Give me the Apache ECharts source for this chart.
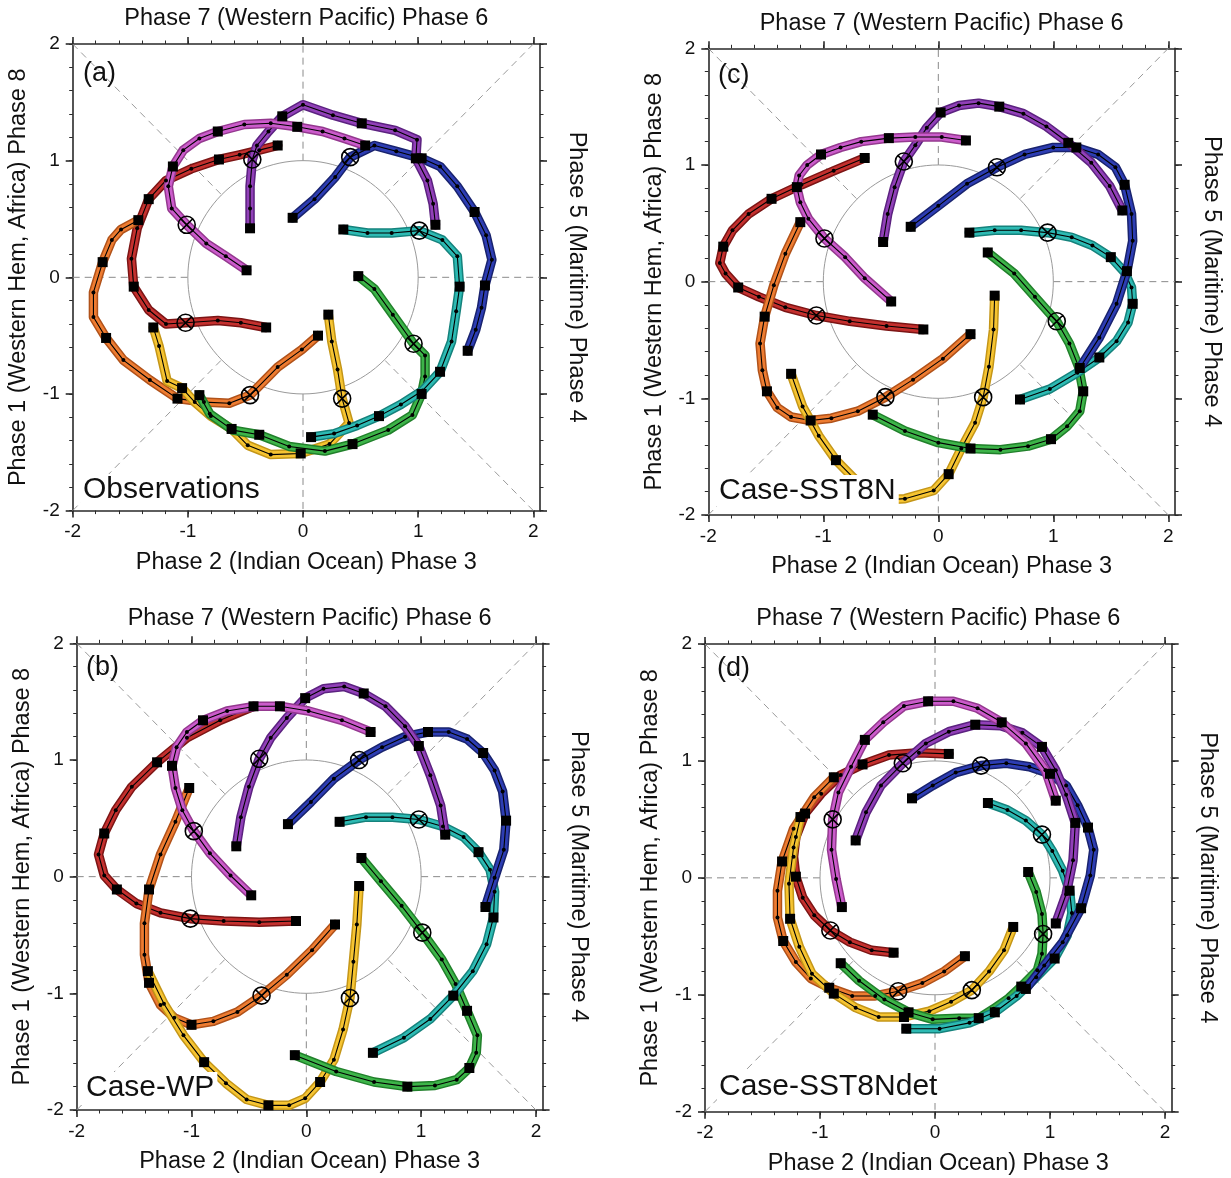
<!DOCTYPE html>
<html><head><meta charset="utf-8">
<script src="https://cdn.jsdelivr.net/npm/echarts/dist/echarts.min.js"></script>
<style>html,body{margin:0;padding:0;background:#fff}#c{width:1231px;height:1178px}</style>
</head><body><div id="c"></div><script>
// ---------- DATA (RMM1, RMM2 daily composites; 16 days each) ----------
const TICK_VALUES = [-2, -1, 0, 1, 2];
const SQUARE_DAYS = [0, 3, 6, 9, 15];
const CROSS_DAY = 12;
const TRACK_NAMES = ['red', 'orange', 'yellow', 'green', 'cyan', 'blue', 'purple', 'magenta'];

// (a) Observations
const A_RED = [[-0.22,1.13],[-0.38,1.09],[-0.55,1.05],[-0.73,1.01],[-0.97,0.93],[-1.19,0.83],[-1.34,0.67],[-1.44,0.42],[-1.49,0.16],[-1.47,-0.08],[-1.34,-0.28],[-1.19,-0.40],[-1.02,-0.39],[-0.74,-0.37],[-0.54,-0.39],[-0.32,-0.43]];
const A_ORANGE = [[-1.43,0.49],[-1.58,0.41],[-1.66,0.32],[-1.74,0.13],[-1.82,-0.13],[-1.82,-0.34],[-1.71,-0.52],[-1.56,-0.71],[-1.33,-0.88],[-1.09,-1.04],[-0.86,-1.07],[-0.64,-1.08],[-0.46,-1.01],[-0.22,-0.77],[-0.01,-0.62],[0.13,-0.50]];
const A_YELLOW = [[-1.30,-0.43],[-1.25,-0.59],[-1.18,-0.89],[-1.05,-0.95],[-0.94,-1.07],[-0.80,-1.19],[-0.62,-1.30],[-0.48,-1.44],[-0.28,-1.52],[-0.02,-1.51],[0.23,-1.43],[0.40,-1.25],[0.34,-1.04],[0.30,-0.79],[0.25,-0.55],[0.22,-0.32]];
const A_GREEN = [[-0.90,-1.01],[-0.81,-1.17],[-0.61,-1.31],[-0.38,-1.35],[-0.12,-1.45],[0.19,-1.49],[0.43,-1.43],[0.74,-1.31],[0.95,-1.18],[1.03,-1.00],[1.06,-0.85],[1.06,-0.67],[0.96,-0.57],[0.78,-0.32],[0.62,-0.10],[0.48,0.01]];
const A_CYAN = [[0.07,-1.37],[0.27,-1.34],[0.47,-1.27],[0.66,-1.19],[0.85,-1.09],[1.04,-0.97],[1.19,-0.81],[1.29,-0.55],[1.33,-0.29],[1.36,-0.08],[1.34,0.18],[1.21,0.32],[1.01,0.40],[0.77,0.38],[0.56,0.38],[0.35,0.41]];
const A_BLUE = [[1.43,-0.63],[1.50,-0.45],[1.55,-0.26],[1.58,-0.07],[1.64,0.15],[1.59,0.36],[1.49,0.56],[1.34,0.78],[1.19,0.95],[1.03,1.02],[0.81,1.08],[0.62,1.13],[0.41,1.03],[0.28,0.86],[0.10,0.67],[-0.09,0.51]];
const A_PURPLE = [[1.15,0.45],[1.13,0.63],[1.08,0.83],[0.98,1.02],[0.99,1.18],[0.80,1.26],[0.51,1.32],[0.26,1.39],[0.00,1.48],[-0.18,1.38],[-0.30,1.25],[-0.40,1.13],[-0.44,1.01],[-0.46,0.78],[-0.46,0.59],[-0.46,0.42]];
const A_MAGENTA = [[0.54,1.13],[0.36,1.19],[0.17,1.25],[-0.05,1.29],[-0.28,1.32],[-0.51,1.31],[-0.74,1.25],[-0.90,1.19],[-1.04,1.09],[-1.13,0.95],[-1.17,0.78],[-1.14,0.59],[-1.01,0.45],[-0.84,0.29],[-0.67,0.18],[-0.49,0.06]];

// (b) Case-WP
const B_RED = [[-0.46,1.46],[-0.75,1.34],[-1.04,1.19],[-1.30,0.98],[-1.52,0.77],[-1.66,0.57],[-1.76,0.37],[-1.81,0.19],[-1.76,0.01],[-1.65,-0.11],[-1.48,-0.23],[-1.27,-0.31],[-1.01,-0.36],[-0.72,-0.38],[-0.41,-0.39],[-0.09,-0.38]];
const B_ORANGE = [[-1.02,0.76],[-1.14,0.47],[-1.27,0.19],[-1.37,-0.11],[-1.41,-0.40],[-1.41,-0.67],[-1.37,-0.91],[-1.27,-1.10],[-1.15,-1.21],[-1.00,-1.27],[-0.81,-1.24],[-0.60,-1.16],[-0.39,-1.02],[-0.17,-0.84],[0.05,-0.63],[0.25,-0.41]];
const B_YELLOW = [[-1.38,-0.81],[-1.24,-1.09],[-1.07,-1.36],[-0.89,-1.59],[-0.70,-1.77],[-0.52,-1.91],[-0.33,-1.96],[-0.15,-1.96],[-0.01,-1.90],[0.12,-1.76],[0.24,-1.57],[0.32,-1.31],[0.38,-1.04],[0.41,-0.73],[0.44,-0.41],[0.46,-0.08]];
const B_GREEN = [[-0.10,-1.53],[0.26,-1.67],[0.59,-1.76],[0.88,-1.80],[1.12,-1.79],[1.31,-1.74],[1.42,-1.64],[1.48,-1.51],[1.49,-1.36],[1.40,-1.15],[1.30,-0.92],[1.18,-0.71],[1.01,-0.48],[0.83,-0.25],[0.65,-0.04],[0.48,0.16]];
const B_CYAN = [[0.58,-1.51],[0.85,-1.38],[1.08,-1.22],[1.28,-1.02],[1.45,-0.81],[1.57,-0.58],[1.63,-0.35],[1.64,-0.13],[1.60,0.06],[1.50,0.21],[1.37,0.34],[1.19,0.43],[0.98,0.49],[0.75,0.51],[0.52,0.51],[0.29,0.47]];
const B_BLUE = [[1.56,-0.26],[1.64,-0.01],[1.72,0.23],[1.74,0.48],[1.71,0.73],[1.64,0.91],[1.54,1.06],[1.40,1.18],[1.24,1.24],[1.06,1.24],[0.86,1.20],[0.66,1.11],[0.46,1.00],[0.24,0.84],[0.04,0.64],[-0.16,0.45]];
const B_PURPLE = [[1.21,0.36],[1.17,0.61],[1.08,0.87],[0.98,1.12],[0.86,1.29],[0.69,1.46],[0.50,1.57],[0.33,1.63],[0.15,1.61],[-0.01,1.53],[-0.17,1.36],[-0.31,1.19],[-0.41,1.01],[-0.50,0.77],[-0.57,0.51],[-0.61,0.26]];
const B_MAGENTA = [[0.56,1.24],[0.31,1.34],[0.02,1.42],[-0.23,1.46],[-0.44,1.46],[-0.69,1.42],[-0.90,1.34],[-1.04,1.24],[-1.13,1.11],[-1.17,0.95],[-1.14,0.76],[-1.08,0.57],[-0.98,0.39],[-0.84,0.20],[-0.66,0.01],[-0.48,-0.16]];

// (c) Case-SST8N
const C_RED = [[-0.64,1.06],[-0.91,0.95],[-1.19,0.83],[-1.45,0.71],[-1.65,0.58],[-1.79,0.44],[-1.87,0.30],[-1.90,0.16],[-1.85,0.07],[-1.74,-0.05],[-1.56,-0.13],[-1.33,-0.22],[-1.06,-0.29],[-0.77,-0.34],[-0.45,-0.38],[-0.13,-0.41]];
const C_ORANGE = [[-1.20,0.51],[-1.33,0.24],[-1.43,-0.03],[-1.51,-0.30],[-1.55,-0.53],[-1.53,-0.76],[-1.49,-0.94],[-1.40,-1.08],[-1.28,-1.16],[-1.11,-1.19],[-0.93,-1.17],[-0.70,-1.11],[-0.46,-0.99],[-0.22,-0.84],[0.04,-0.66],[0.28,-0.45]];
const C_YELLOW = [[-1.28,-0.79],[-1.18,-1.07],[-1.04,-1.32],[-0.89,-1.53],[-0.74,-1.68],[-0.59,-1.81],[-0.45,-1.87],[-0.29,-1.86],[-0.04,-1.79],[0.09,-1.65],[0.20,-1.43],[0.32,-1.21],[0.39,-0.99],[0.44,-0.73],[0.48,-0.41],[0.49,-0.12]];
const C_GREEN = [[-0.57,-1.14],[-0.29,-1.28],[0.00,-1.38],[0.28,-1.43],[0.54,-1.44],[0.78,-1.41],[0.98,-1.35],[1.12,-1.24],[1.23,-1.11],[1.26,-0.94],[1.22,-0.73],[1.14,-0.53],[1.03,-0.34],[0.84,-0.13],[0.66,0.07],[0.43,0.25]];
const C_CYAN = [[0.71,-1.01],[0.97,-0.92],[1.21,-0.78],[1.40,-0.65],[1.55,-0.51],[1.65,-0.35],[1.69,-0.19],[1.68,-0.05],[1.62,0.08],[1.50,0.21],[1.34,0.31],[1.16,0.38],[0.95,0.42],[0.72,0.44],[0.49,0.44],[0.27,0.42]];
const C_BLUE = [[1.23,-0.74],[1.40,-0.48],[1.55,-0.19],[1.64,0.09],[1.69,0.35],[1.68,0.58],[1.62,0.83],[1.54,0.98],[1.39,1.09],[1.20,1.15],[1.00,1.15],[0.75,1.09],[0.51,0.98],[0.25,0.84],[0.00,0.65],[-0.24,0.47]];
const C_PURPLE = [[1.60,0.61],[1.49,0.82],[1.33,1.02],[1.13,1.19],[0.94,1.33],[0.74,1.44],[0.53,1.50],[0.35,1.53],[0.18,1.51],[0.02,1.45],[-0.10,1.32],[-0.20,1.17],[-0.30,1.03],[-0.38,0.81],[-0.44,0.58],[-0.48,0.34]];
const C_MAGENTA = [[0.24,1.21],[0.03,1.24],[-0.20,1.24],[-0.43,1.23],[-0.67,1.20],[-0.85,1.15],[-1.02,1.09],[-1.14,1.00],[-1.21,0.91],[-1.23,0.81],[-1.20,0.68],[-1.13,0.54],[-0.99,0.37],[-0.81,0.21],[-0.64,0.03],[-0.41,-0.17]];

// (d) Case-SST8Ndet
const D_RED = [[0.12,1.06],[-0.14,1.07],[-0.40,1.05],[-0.63,0.97],[-0.82,0.88],[-0.99,0.72],[-1.13,0.55],[-1.21,0.35],[-1.23,0.18],[-1.21,0.01],[-1.15,-0.17],[-1.05,-0.32],[-0.91,-0.45],[-0.74,-0.55],[-0.55,-0.62],[-0.36,-0.64]];
const D_ORANGE = [[-0.88,0.86],[-1.05,0.69],[-1.23,0.42],[-1.33,0.14],[-1.37,-0.11],[-1.37,-0.34],[-1.32,-0.54],[-1.21,-0.72],[-1.08,-0.86],[-0.92,-0.94],[-0.72,-1.01],[-0.52,-1.01],[-0.32,-0.97],[-0.11,-0.90],[0.08,-0.80],[0.26,-0.67]];
const D_YELLOW = [[-1.17,0.52],[-1.23,0.26],[-1.27,-0.05],[-1.26,-0.35],[-1.18,-0.59],[-1.07,-0.82],[-0.88,-0.99],[-0.69,-1.11],[-0.49,-1.19],[-0.27,-1.19],[-0.05,-1.14],[0.14,-1.06],[0.32,-0.96],[0.47,-0.80],[0.60,-0.62],[0.68,-0.42]];
const D_GREEN = [[-0.82,-0.73],[-0.66,-0.88],[-0.44,-1.04],[-0.23,-1.15],[-0.02,-1.21],[0.21,-1.20],[0.38,-1.20],[0.51,-1.12],[0.64,-1.03],[0.75,-0.93],[0.89,-0.79],[0.93,-0.65],[0.94,-0.48],[0.93,-0.31],[0.88,-0.12],[0.81,0.05]];
const D_CYAN = [[-0.25,-1.29],[0.04,-1.29],[0.30,-1.24],[0.52,-1.15],[0.71,-1.01],[0.88,-0.85],[1.04,-0.69],[1.15,-0.49],[1.19,-0.30],[1.17,-0.11],[1.11,0.06],[1.02,0.23],[0.93,0.37],[0.79,0.49],[0.63,0.58],[0.46,0.64]];
const D_BLUE = [[0.79,-0.95],[0.95,-0.75],[1.11,-0.55],[1.27,-0.26],[1.35,0.02],[1.38,0.24],[1.33,0.43],[1.24,0.62],[1.14,0.79],[1.00,0.89],[0.82,0.95],[0.62,0.98],[0.40,0.96],[0.18,0.90],[-0.02,0.79],[-0.20,0.68]];
const D_PURPLE = [[1.05,-0.39],[1.14,-0.14],[1.20,0.15],[1.22,0.47],[1.14,0.71],[1.05,0.92],[0.93,1.12],[0.76,1.24],[0.57,1.30],[0.35,1.31],[0.12,1.25],[-0.08,1.15],[-0.28,0.98],[-0.47,0.79],[-0.60,0.56],[-0.69,0.32]];
const D_MAGENTA = [[1.05,0.66],[0.96,0.92],[0.79,1.15],[0.58,1.33],[0.37,1.45],[0.16,1.51],[-0.06,1.51],[-0.27,1.47],[-0.45,1.33],[-0.61,1.18],[-0.73,0.95],[-0.84,0.73],[-0.89,0.50],[-0.90,0.24],[-0.86,-0.01],[-0.81,-0.25]];

// ---------- STYLE / LAYOUT ----------
const FONT = '"Liberation Sans", Arial, Helvetica, sans-serif';
const FILL = {red:'#c4302e', orange:'#ee7c31', yellow:'#f6c432', green:'#3db449', cyan:'#2dbab3', blue:'#2d3db3', purple:'#9140b8', magenta:'#cb5bcb'};
const EDGE = {red:'#7c1515', orange:'#b0521a', yellow:'#c49618', green:'#21802b', cyan:'#15827c', blue:'#19236e', purple:'#5c2280', magenta:'#94398f'};
const XMAX = 2.058;
const TITLE_TOP = 'Phase 7 (Western Pacific) Phase 6';
const TITLE_BOTTOM = 'Phase 2 (Indian Ocean) Phase 3';
const TITLE_LEFT = 'Phase 1 (Western Hem, Africa) Phase 8';
const TITLE_RIGHT = 'Phase 5 (Maritime) Phase 4';
const MINOR_TICKS = [];
for (let i = -10; i <= 10; i++) MINOR_TICKS.push(i / 5);

const PANELS = [
  {left:72.7, top:44, w:467.3, h:466.6, letter:'(a)', label:'Observations', lx:81, ly:490, ax:83, ay:74,
   tracks:[A_RED,A_ORANGE,A_YELLOW,A_GREEN,A_CYAN,A_BLUE,A_PURPLE,A_MAGENTA]},
  {left:708.3, top:48.3, w:466.7, h:466.7, letter:'(c)', label:'Case-SST8N', lx:717, ly:491, ax:718, ay:76,
   tracks:[C_RED,C_ORANGE,C_YELLOW,C_GREEN,C_CYAN,C_BLUE,C_PURPLE,C_MAGENTA]},
  {left:76.7, top:643.3, w:465.9, h:466.7, letter:'(b)', label:'Case-WP', lx:84, ly:1088, ax:86, ay:668,
   tracks:[B_RED,B_ORANGE,B_YELLOW,B_GREEN,B_CYAN,B_BLUE,B_PURPLE,B_MAGENTA]},
  {left:705, top:644, w:466.7, h:467.7, letter:'(d)', label:'Case-SST8Ndet', lx:717, ly:1087, ax:717, ay:669,
   tracks:[D_RED,D_ORANGE,D_YELLOW,D_GREEN,D_CYAN,D_BLUE,D_PURPLE,D_MAGENTA]}
];

const AX_COLOR = '#2a2a2a';
const nameStyle = {fontSize:23.5, color:'#111', fontFamily:FONT};
function fmt(v){ const r = Math.round(v); return (Math.abs(v - r) < 1e-6 && TICK_VALUES.indexOf(r) >= 0) ? String(r) : ''; }

function axisPair(dim, g, pos, withLabels, name, nameGap, nameRotate){
  const isX = dim === 'x';
  const min = -2, max = isX ? XMAX : 2;
  const major = {
    gridIndex:g, type:'value', position:pos, min:min, max:max, interval:1,
    axisLine:{show:true, onZero:false, lineStyle:{color:AX_COLOR, width:1.6}},
    axisTick:{show:true, inside:false, length:7, customValues:TICK_VALUES, lineStyle:{color:AX_COLOR, width:1.6}},
    axisLabel:{show:withLabels, margin:isX ? 12 : 13, fontSize:19, color:'#111', fontFamily:FONT, formatter:fmt, customValues:TICK_VALUES},
    splitLine:{show:false},
    name:name, nameLocation:'middle', nameGap:nameGap, nameTextStyle:nameStyle
  };
  if (nameRotate !== undefined) major.nameRotate = nameRotate;
  const minor = {
    gridIndex:g, type:'value', position:pos, min:min, max:max, interval:0.2,
    axisLine:{show:false, onZero:false},
    axisTick:{show:true, inside:false, length:3.5, customValues:MINOR_TICKS, lineStyle:{color:AX_COLOR, width:1}},
    axisLabel:{show:false}, splitLine:{show:false}
  };
  return [major, minor];
}

const CROSS_PATH = 'path://M10,1A9,9,0,1,1,10,19A9,9,0,1,1,10,1ZM3.6,3.6L16.4,16.4M16.4,3.6L3.6,16.4';

const grids = [], xAxes = [], yAxes = [], series = [], graphics = [];
PANELS.forEach((p, g) => {
  grids.push({left:p.left, top:p.top, width:p.w, height:p.h, containLabel:false});
  xAxes.push(...axisPair('x', g, 'bottom', true, TITLE_BOTTOM, 40));
  xAxes.push(...axisPair('x', g, 'top', false, TITLE_TOP, 13));
  yAxes.push(...axisPair('y', g, 'left', true, TITLE_LEFT, 42));
  yAxes.push(...axisPair('y', g, 'right', false, TITLE_RIGHT, 24, -90));
  const xi = g * 4, yi = g * 4;
  const guide = (pts, color, type) => series.push({
    type:'line', xAxisIndex:xi, yAxisIndex:yi, data:pts, symbol:'none', silent:true,
    lineStyle:{color:color, width:1, type:type}, z:1
  });
  const D = '#8a8a8a';
  guide([[-2,0],[-1,0]], D, [7,5]);
  guide([[1,0],[XMAX,0]], D, [7,5]);
  guide([[0,1],[0,2]], D, [7,5]);
  guide([[0,-1],[0,-2]], D, [7,5]);
  const s = Math.SQRT1_2;
  guide([[-2,2],[-s,s]], '#9a9a9a', [7,5]);
  guide([[2,2],[s,s]], '#9a9a9a', [7,5]);
  guide([[-2,-2],[-s,-s]], '#9a9a9a', [7,5]);
  guide([[2,-2],[s,-s]], '#9a9a9a', [7,5]);
  const circ = [];
  for (let a = 0; a <= 360; a += 3) circ.push([Math.cos(a*Math.PI/180), Math.sin(a*Math.PI/180)]);
  guide(circ, '#9a9a9a', 'solid');

  p.tracks.forEach((pts, k) => {
    const nm = TRACK_NAMES[k];
    series.push({type:'line', xAxisIndex:xi, yAxisIndex:yi, data:pts, symbol:'none', silent:true,
      lineStyle:{color:EDGE[nm], width:9.5, cap:'round', join:'round'}, z:2});
    series.push({type:'line', xAxisIndex:xi, yAxisIndex:yi, data:pts, symbol:'none', silent:true,
      lineStyle:{color:FILL[nm], width:6.5, cap:'round', join:'round'}, z:2});
    series.push({type:'line', xAxisIndex:xi, yAxisIndex:yi, silent:true, z:2,
      lineStyle:{color:'#000', width:1.1},
      symbol:'circle', symbolSize:4, itemStyle:{color:'#000'},
      data: pts.map((v, d) => {
        if (d === CROSS_DAY) return {value:v, symbol:CROSS_PATH, symbolSize:17,
          itemStyle:{color:'rgba(0,0,0,0)', borderColor:'#000', borderWidth:1.6}};
        if (SQUARE_DAYS.indexOf(d) >= 0) return {value:v, symbol:'rect', symbolSize:10, itemStyle:{color:'#000'}};
        return {value:v};
      })});
  });

  graphics.push({type:'text', z:100, style:{text:p.letter, x:p.ax, y:p.ay, fontSize:27, fontFamily:FONT, fill:'#111', verticalAlign:'middle'}});
  graphics.push({type:'text', z:100, style:{text:p.label, x:p.lx, y:p.ly, fontSize:30, fontFamily:FONT, fill:'#111',
    verticalAlign:'middle', backgroundColor:'#fff', padding:[1,3,1,2]}});
});

const chart = echarts.init(document.getElementById('c'), null, {renderer:'canvas'});
chart.setOption({
  animation:false, backgroundColor:'#fff',
  grid:grids, xAxis:xAxes, yAxis:yAxes, series:series, graphic:graphics
});
</script></body></html>
